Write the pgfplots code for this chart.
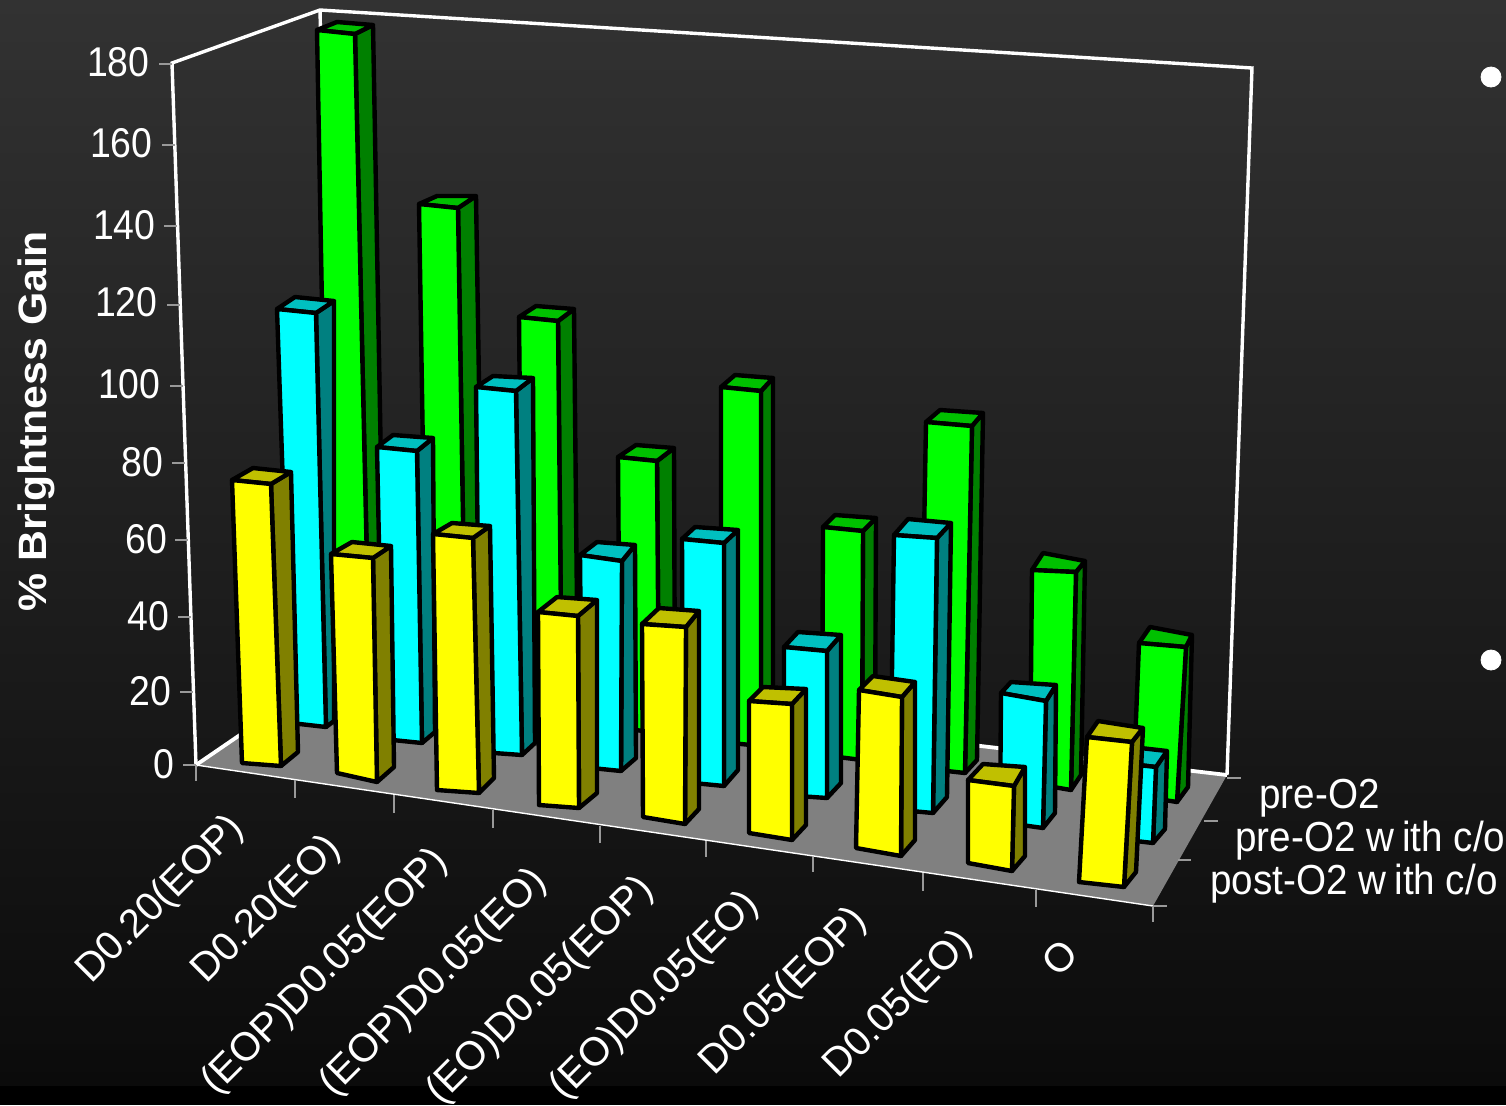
\documentclass[border=0pt]{standalone}
\usepackage{fontspec}
\usepackage{pgfplots}
\pgfplotsset{compat=1.18}
\setmainfont{Liberation Sans}
\newfontfamily\cond[FakeStretch=0.9]{Liberation Sans}
\newfontfamily\condb[FakeStretch=0.92]{Liberation Sans}
\newfontfamily\wide[FakeStretch=1.08]{Liberation Sans}
\definecolor{gF}{RGB}{0,255,0}\definecolor{gS}{RGB}{0,128,0}\definecolor{gT}{RGB}{0,192,0}
\definecolor{cF}{RGB}{0,255,255}\definecolor{cS}{RGB}{0,128,128}\definecolor{cT}{RGB}{0,192,192}
\definecolor{yF}{RGB}{255,255,0}\definecolor{yS}{RGB}{128,128,0}\definecolor{yT}{RGB}{192,192,0}
% #1 colour prefix, then picture points: front top left, front top right, back top left, back top right,
% front bottom left, front bottom right, back bottom right
\newcommand\vbar[8]{%
  \addplot[draw=black,line width=2.2pt,line join=round,fill=#1S] coordinates {#3 #5 #8 #7} -- cycle;
  \addplot[draw=black,line width=2.2pt,line join=round,fill=#1T] coordinates {#2 #4 #5 #3} -- cycle;
  \addplot[draw=black,line width=2.2pt,line join=round,fill=#1F] coordinates {#2 #3 #7 #6} -- cycle;
}
\newcommand\ytl[3]{\node[anchor=east,text=white,inner sep=0pt,font=\cond\fontsize{20.8}{22}\selectfont] at (axis cs:#1,#2) {#3};}
\newcommand\xtl[3]{\node[rotate=45,text=white,inner sep=0pt,font=\fontsize{20}{22}\selectfont] at (axis cs:#1,#2) {#3};}
\newcommand\ztl[3]{\node[anchor=west,text=white,inner sep=0pt,font=\condb\fontsize{21}{23}\selectfont] at (axis cs:#1,#2) {#3};}
\newcommand\tk[4]{\addplot[draw=gray!80!white,line width=0.7pt] coordinates {(#1,#2) (#3,#4)};}
\begin{document}
\begin{tikzpicture}
\useasboundingbox (0,0) rectangle (753pt,552.5pt);
\clip (0,0) rectangle (753pt,552.5pt);
\fill[black] (0,0) rectangle (753pt,552.5pt);
\shade[top color={rgb,255:red,50;green,50;blue,50},bottom color={rgb,255:red,11;green,11;blue,11}] (0,10pt) rectangle (753pt,552.5pt);
\begin{axis}[
  scale only axis,width=753pt,height=552.5pt,
  xmin=0,xmax=1506,ymin=0,ymax=1105,y dir=reverse,
  hide axis,clip=false,no markers]
% floor
\addplot[fill=gray,draw=none] coordinates {(196,765) (335,670) (1227,775) (1153,906)} -- cycle;
% walls
\addplot[draw=white,line width=1.7pt,line join=miter] coordinates {(196,765) (172,63) (320,10) (1252,68) (1227,775)};
\addplot[draw=white,line width=1.7pt] coordinates {(320,10) (335,670)};
\addplot[draw=white,line width=1.9pt] coordinates {(196,765) (335,670) (1227,775)};
\addplot[draw=white,line width=0.7pt] coordinates {(196,765) (1153,906)};
% value ticks
\tk{159}{64}{172}{64}\tk{162}{145}{175}{145}\tk{164}{226}{177}{226}\tk{167}{305}{180}{305}\tk{170}{386}{183}{386}
\tk{172}{463}{185}{463}\tk{175}{540}{188}{540}\tk{178}{617}{191}{617}\tk{180}{692}{193}{692}\tk{183}{765}{196}{765}
% category ticks
\tk{196}{765}{196}{781}\tk{295}{780}{295}{798}\tk{394}{795}{394}{813}\tk{493}{810}{493}{828}\tk{600}{826}{600}{843}
\tk{706}{841}{706}{857}\tk{813}{857}{813}{872}\tk{923}{873}{923}{891}\tk{1036}{890}{1036}{907}\tk{1153}{906}{1153}{922}
% series ticks
\tk{1227}{778}{1241}{778}\tk{1204}{821}{1218}{821}\tk{1178}{860}{1191}{860}\tk{1153}{906}{1167}{906}
% back row
\vbar{g}{(317,30)}{(355,34)}{(337,22)}{(373,25)}{(329,692)}{(370,697)}{(385,686)}
\vbar{g}{(419,204)}{(458,208)}{(437,196)}{(476,196)}{(427,703)}{(466,708)}{(484,697)}
\vbar{g}{(519,317)}{(558,321)}{(536,306)}{(574,309)}{(523,716)}{(562,720)}{(578,708)}
\vbar{g}{(618,457)}{(657,461)}{(636,445)}{(674,448)}{(620,728)}{(659,733)}{(675,722)}
\vbar{g}{(721,387)}{(761,391)}{(735,375)}{(773,378)}{(721,742)}{(761,746)}{(773,735)}
\vbar{g}{(823,527)}{(863,531)}{(835,515)}{(876,518)}{(822,755)}{(862,760)}{(875,745)}
\vbar{g}{(926,422)}{(972,426)}{(940,410)}{(983,413)}{(920,768)}{(965,773)}{(977,760)}
\vbar{g}{(1032,570)}{(1076,572)}{(1043,553)}{(1085,561)}{(1030,783)}{(1071,790)}{(1081,775)}
\vbar{g}{(1139,643)}{(1186,647)}{(1150,627)}{(1192,635)}{(1133,795)}{(1177,802)}{(1188,787)}
% middle row
\vbar{c}{(277,309)}{(316,313)}{(295,297)}{(334,301)}{(291,723)}{(326,727)}{(334,721)}
\vbar{c}{(377,447)}{(417,451)}{(393,435)}{(433,438)}{(383,739)}{(422,743)}{(435,732)}
\vbar{c}{(476,387)}{(516,391)}{(493,376)}{(533,378)}{(480,752)}{(522,755)}{(535,743)}
\vbar{c}{(580,555)}{(622,561)}{(597,542)}{(635,545)}{(582,767)}{(621,771)}{(636,758)}
\vbar{c}{(682,539)}{(724,543)}{(695,527)}{(738,530)}{(683,782)}{(724,786)}{(738,770)}
\vbar{c}{(784,647)}{(827,651)}{(798,632)}{(841,635)}{(784,795)}{(827,798)}{(841,783)}
\vbar{c}{(894,535)}{(937,538)}{(908,519)}{(951,523)}{(890,809)}{(933,813)}{(947,797)}
\vbar{c}{(1001,693)}{(1046,701)}{(1011,682)}{(1056,685)}{(1000,822)}{(1043,828)}{(1055,813)}
\vbar{c}{(1112,762)}{(1156,767)}{(1123,746)}{(1167,751)}{(1110,838)}{(1153,843)}{(1165,829)}
% front row
\vbar{y}{(232,480)}{(271,484)}{(253,468)}{(291,472)}{(242,763)}{(281,766)}{(298,752)}
\vbar{y}{(331,554)}{(373,558)}{(352,542)}{(391,546)}{(337,773)}{(377,782)}{(394,767)}
\vbar{y}{(433,534)}{(473,538)}{(452,523)}{(490,526)}{(437,790)}{(479,793)}{(494,778)}
\vbar{y}{(538,612)}{(578,616)}{(557,597)}{(597,600)}{(539,805)}{(579,808)}{(597,793)}
\vbar{y}{(642,624)}{(686,627)}{(659,608)}{(699,611)}{(643,817)}{(685,824)}{(699,809)}
\vbar{y}{(749,701)}{(792,704)}{(763,687)}{(806,689)}{(749,833)}{(792,840)}{(806,825)}
\vbar{y}{(859,690)}{(902,697)}{(873,676)}{(915,682)}{(856,848)}{(901,856)}{(915,840)}
\vbar{y}{(968,780)}{(1014,786)}{(983,764)}{(1025,767)}{(968,863)}{(1012,871)}{(1025,856)}
\vbar{y}{(1087,737)}{(1132,742)}{(1098,721)}{(1143,728)}{(1079,882)}{(1124,887)}{(1136,872)}
% value labels
\ytl{150}{62}{180}\ytl{153}{143}{160}\ytl{156}{225}{140}\ytl{158}{302}{120}\ytl{161}{384}{100}
\ytl{164}{462}{80}\ytl{168}{539}{60}\ytl{170}{616}{40}\ytl{172}{691}{20}\ytl{175}{764}{0}
\node[rotate=90,text=white,inner sep=0pt,font=\wide\bfseries\fontsize{19.8}{22}\selectfont] at (axis cs:36,421) {\% Brightness Gain};
% category labels
\xtl{161}{900}{D0.20(EOP)}\xtl{267}{910}{D0.20(EO)}\xtl{325}{972}{(EOP)D0.05(EOP)}
\xtl{434}{983}{(EOP)D0.05(EO)}\xtl{541}{991}{(EO)D0.05(EOP)}\xtl{655}{996}{(EO)D0.05(EO)}
\xtl{784}{992}{D0.05(EOP)}\xtl{899}{1005}{D0.05(EO)}\xtl{1060}{958}{O}
% series labels
\ztl{1259}{798}{pre-O2}
\ztl{1235}{841}{pre-O2 w\kern4pt ith c/o}
\ztl{1210}{884}{post-O2 w\kern4pt ith c/o}
% bullets
\addplot[only marks,mark=*,mark size=5pt,mark options={fill=white,draw=white}] coordinates {(1491,77) (1491,660)};
\end{axis}
\end{tikzpicture}
\end{document}
